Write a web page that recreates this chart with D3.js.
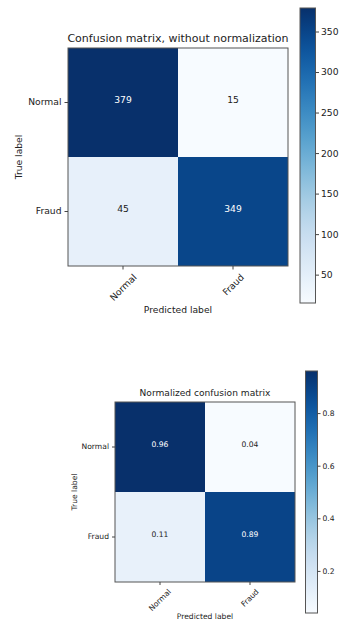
<!DOCTYPE html>
<html>
<head>
<meta charset="utf-8">
<script src="https://cdn.jsdelivr.net/npm/d3@7"></script>
<style>
  html, body { margin: 0; padding: 0; background: #fff; }
  svg { display: block; }
  text { font-family: "DejaVu Sans", sans-serif; fill: #222; }
</style>
</head>
<body>
<svg id="chart" width="341" height="621"></svg>
<script>
// Class names shared by both matrices
const classes = ["Normal", "Fraud"];
// Raw counts: rows = true label, columns = predicted label
const countValues = [[379, 15], [45, 349]];
// Row-normalized rates
const normValues = [[0.96, 0.04], [0.11, 0.89]];
// Colorbar ticks
const countTicks = [50, 100, 150, 200, 250, 300, 350];
const normTicks = [0.2, 0.4, 0.6, 0.8];

const svg = d3.select("#chart");

function drawMatrix(cfg) {
  const g = svg.append("g");
  const flat = cfg.values.flatMap((row, i) => row.map((v, j) => ({ row: classes[i], col: classes[j], v })));
  const vmin = d3.min(flat, d => d.v), vmax = d3.max(flat, d => d.v);
  const color = d3.scaleSequential(d3.interpolateBlues).domain([vmin, vmax]);

  const x = d3.scaleBand().domain(classes).range([cfg.left, cfg.right]);
  const y = d3.scaleBand().domain(classes).range([cfg.top, cfg.bottom]);

  // cells
  g.selectAll("rect.cell").data(flat).join("rect")
    .attr("class", "cell")
    .attr("x", d => x(d.col)).attr("y", d => y(d.row))
    .attr("width", x.bandwidth()).attr("height", y.bandwidth())
    .attr("fill", d => color(d.v));

  // cell annotations
  const thresh = vmax / 2;
  g.selectAll("text.val").data(flat).join("text")
    .attr("class", "val")
    .attr("x", d => x(d.col) + x.bandwidth() / 2)
    .attr("y", d => y(d.row) + y.bandwidth() / 2 - cfg.fs * 0.3)
    .attr("text-anchor", "middle")
    .attr("dominant-baseline", "central")
    .style("font-size", cfg.fs + "px")
    .style("fill", d => d.v > thresh ? "#fff" : "#222")
    .text(d => cfg.fmt(d.v));

  // frame
  g.append("rect")
    .attr("x", cfg.left).attr("y", cfg.top)
    .attr("width", cfg.right - cfg.left).attr("height", cfg.bottom - cfg.top)
    .attr("fill", "none").attr("stroke", "#555").attr("stroke-width", 1);

  // y axis (true label)
  const yAxis = g.append("g")
    .attr("transform", `translate(${cfg.left},0)`)
    .call(d3.axisLeft(y).tickSize(cfg.tick).tickPadding(3));
  yAxis.select(".domain").remove();
  yAxis.selectAll("line").attr("stroke", "#444");
  yAxis.selectAll("text").style("font-size", cfg.fs + "px").style("font-family", "DejaVu Sans").attr("fill", "#222");

  // x axis (predicted label), rotated tick labels centered under each tick
  const xAxis = g.append("g")
    .attr("transform", `translate(0,${cfg.bottom})`)
    .call(d3.axisBottom(x).tickSize(cfg.tick).tickFormat(""));
  xAxis.select(".domain").remove();
  xAxis.selectAll("line").attr("stroke", "#444");
  classes.forEach(c => {
    const t = g.append("text")
      .style("font-size", cfg.fs + "px")
      .attr("text-anchor", "middle")
      .attr("dominant-baseline", "central")
      .text(c);
    const bb = t.node().getBBox();
    const h = (bb.width + cfg.fs * 0.9) / Math.SQRT2;
    const cx = x(c) + x.bandwidth() / 2;
    const cy = cfg.bottom + cfg.tick + 3 + h / 2;
    t.attr("transform", `translate(${cx},${cy}) rotate(-45)`);
  });

  // titles
  g.append("text")
    .attr("x", (cfg.left + cfg.right) / 2).attr("y", cfg.top - 6)
    .attr("text-anchor", "middle")
    .style("font-size", cfg.titleFs + "px")
    .text(cfg.title);
  g.append("text")
    .attr("x", (cfg.left + cfg.right) / 2).attr("y", cfg.xlabelY)
    .attr("text-anchor", "middle")
    .style("font-size", cfg.fs + "px")
    .text("Predicted label");
  g.append("text")
    .attr("transform", `translate(${cfg.ylabelX},${(cfg.top + cfg.bottom) / 2}) rotate(-90)`)
    .attr("text-anchor", "middle")
    .style("font-size", cfg.fs + "px")
    .text("True label");

  // colorbar
  const cb = cfg.cb;
  const cbScale = d3.scaleLinear().domain([vmin, vmax]).range([cb.bottom, cb.top]);
  const gradId = "grad-" + cfg.id;
  const grad = svg.append("defs").append("linearGradient")
    .attr("id", gradId).attr("x1", 0).attr("y1", 1).attr("x2", 0).attr("y2", 0);
  d3.range(0, 1.0001, 0.05).forEach(t => {
    grad.append("stop").attr("offset", t).attr("stop-color", color(vmin + t * (vmax - vmin)));
  });
  g.append("rect")
    .attr("x", cb.left).attr("y", cb.top)
    .attr("width", cb.right - cb.left).attr("height", cb.bottom - cb.top)
    .attr("fill", `url(#${gradId})`)
    .attr("stroke", "#555").attr("stroke-width", 1);
  const cbAxis = g.append("g")
    .attr("transform", `translate(${cb.right},0)`)
    .call(d3.axisRight(cbScale).tickValues(cfg.ticks).tickFormat(cfg.tickFmt).tickSize(cfg.tick).tickPadding(2));
  cbAxis.select(".domain").remove();
  cbAxis.selectAll("line").attr("stroke", "#444");
  cbAxis.selectAll("text").style("font-size", cfg.fs + "px").style("font-family", "DejaVu Sans").attr("fill", "#222");
}

drawMatrix({
  id: "counts",
  values: countValues,
  title: "Confusion matrix, without normalization",
  fmt: d3.format("d"),
  left: 68, right: 288, top: 48, bottom: 266,
  fs: 9.2, titleFs: 11, tick: 3.5,
  xlabelY: 313, ylabelX: 22,
  cb: { left: 300, right: 315.5, top: 8, bottom: 303 },
  ticks: countTicks, tickFmt: d3.format("d")
});

drawMatrix({
  id: "norm",
  values: normValues,
  title: "Normalized confusion matrix",
  fmt: d3.format(".2f"),
  left: 115, right: 295, top: 402, bottom: 582,
  fs: 7.6, titleFs: 9.1, tick: 3,
  xlabelY: 618.5, ylabelX: 77,
  cb: { left: 305.5, right: 317.5, top: 371, bottom: 613 },
  ticks: normTicks, tickFmt: d3.format(".1f")
});
</script>
</body>
</html>
